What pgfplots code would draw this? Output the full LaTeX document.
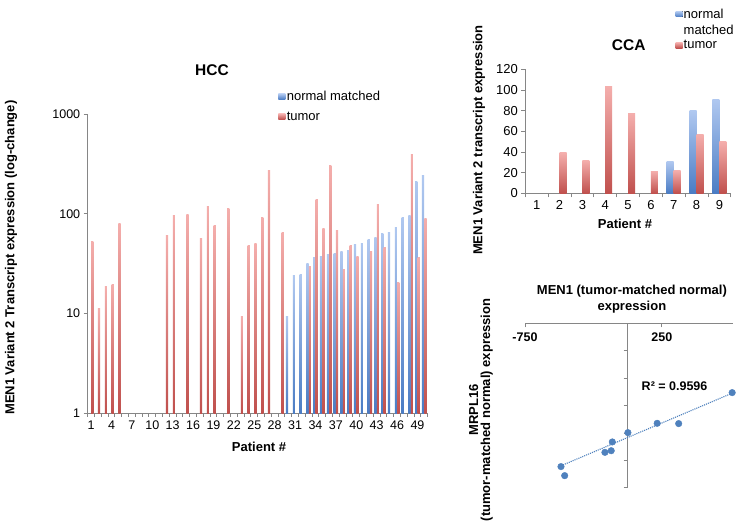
\documentclass[border=0pt]{standalone}
\usepackage{pgfplots}
\pgfplotsset{compat=1.18}
\usepackage{pgfplotstable}
\usepackage{fontspec}
\setmainfont{Liberation Sans}
\definecolor{redtop}{HTML}{F4AEAC}
\definecolor{redbot}{HTML}{C0504D}
\definecolor{bluetop}{HTML}{B0C8F0}
\definecolor{bluebot}{HTML}{4A7CC4}
\definecolor{axgray}{HTML}{868686}
\definecolor{ptblue}{HTML}{4F81BD}

\pgfplotstableread{
x y
764 -253
216 -365
373 -366
2 -399
-112 -433
-120 -465
-166 -471
-487 -523
-460 -556
}\scatterdata

% one \addplot per bar, so that every bar gets its own gradient
\newcommand{\bars}[2]{%
  \pgfplotsforeachungrouped \p/\v in {#2}{%
    \edef\tmp{\noexpand\addplot[#1, forget plot] coordinates {(\p,\v)};}\tmp}}

\pgfplotsset{
  common/.style={
    scale only axis,
    axis line style={axgray, line width=0.8pt},
    every tick/.style={axgray, line width=0.8pt},
    tick label style={font=\fontsize{12.5}{14}\selectfont, text=black},
    label style={font=\bfseries\fontsize{13}{15}\selectfont},
    /pgf/number format/assume math mode=true,
    legend cell align=left,
    legend image code/.code={\fill[##1, draw=none] (0pt,-2.5pt) rectangle (7pt,3pt);},
  },
  redbar/.style={ybar, draw=none, top color=redtop, bottom color=redbot},
  bluebar/.style={ybar, draw=none, top color=bluetop, bottom color=bluebot},
}

\begin{document}
\begin{tikzpicture}
\path[use as bounding box] (0pt,0pt) rectangle (740pt,525pt);

% ---------------- HCC ----------------
\begin{axis}[common,
  at={(87.7pt,111.7pt)}, anchor=south west,
  width=340pt, height=299.3pt,
  ymode=log, ymin=1, ymax=1000, log origin=0,
  ytick={1,10,100,1000}, yticklabels={1,10,100,1000},
  yminorticks=false,
  xmin=0.5, xmax=50.5,
  xtick={1,4,...,49},
  minor xtick={0.5,1.5,...,50.5},
  major x tick style={draw=none},
  tick align=outside, major tick length=4pt, minor tick length=3.5pt,
  axis x line*=bottom, axis y line*=left,
  title={HCC},
  title style={at={(axis description cs:0.3656,1.125)}, anchor=center, font=\bfseries\fontsize{15.5}{18}\selectfont},
  xlabel={Patient \#},
  xlabel style={at={(axis description cs:0.504,-0.1126)}, anchor=center},
  ylabel={MEN1 Variant 2 Transcript expression (log-change)},
  ylabel style={at={(axis description cs:-0.2255,0.52)}, anchor=center},
  legend style={at={(axis description cs:0.56,1.081)}, anchor=north west, draw=none, fill=none,
    font=\fontsize{13}{15}\selectfont, row sep=6.5pt, inner sep=0pt, nodes={inner sep=1.5pt}},
]
% normal matched
\bars{bluebar, bar width=2.2pt, bar shift=-1.2pt}{30/9.4, 31/23.8, 32/24.4, 33/31.6, 34/36.3, 35/37.4, 36/39.2, 37/39.8, 38/41.5, 39/42.5, 40/49, 41/50.9, 42/55.4, 43/58.4, 44/64, 45/65, 46/73.6, 47/92.6, 48/95.5, 49/212, 50/241.6}
% tumor
\bars{redbar, bar width=2.2pt, bar shift=1.2pt}{1/52.9, 2/11.2, 3/18.5, 4/19.6, 5/79.4, 12/60.7, 13/95.5, 15/98.5, 17/56.2, 18/118, 19/76.4, 21/113, 23/9.3, 24/48.2, 25/50, 26/92.6, 27/271, 29/64.6, 33/29.3, 34/138, 35/70.8, 36/304, 37/68, 38/27.5, 39/48.2, 40/36.9, 42/42, 43/123, 44/46.4, 46/20.3, 48/389, 49/36.3, 50/90.5}
\addlegendimage{bluebar}
\addlegendentry{normal matched}
\addlegendimage{redbar}
\addlegendentry{tumor}
\end{axis}

% ---------------- CCA ----------------
\begin{axis}[common,
  at={(525.3pt,331.7pt)}, anchor=south west,
  width=205.5pt, height=124pt,
  ymin=0, ymax=120, ytick={0,20,...,120},
  xmin=0.5, xmax=9.5, xtick={1,...,9},
  minor xtick={0.5,1.5,...,9.5},
  major x tick style={draw=none},
  tick align=outside, major tick length=4pt, minor tick length=4pt,
  tick label style={font=\fontsize{13}{15}\selectfont},
  axis x line*=bottom, axis y line*=left,
  title={CCA},
  title style={at={(axis description cs:0.503,1.148)}, anchor=center, font=\bfseries\fontsize{15.5}{18}\selectfont},
  xlabel={Patient \#},
  xlabel style={at={(axis description cs:0.485,-0.247)}, anchor=center},
  ylabel={MEN1 Variant 2 transcript expression},
  ylabel style={at={(axis description cs:-0.2255,0.43)}, anchor=center},
  legend style={at={(axis description cs:0.73,1.498)}, anchor=north west, draw=none, fill=none,
    font=\fontsize{13}{15}\selectfont, row sep=2.5pt, inner sep=0pt, nodes={inner sep=1.2pt}},
]
\bars{bluebar, bar width=7pt, bar shift=-3.5pt}{7/31, 8/80, 9/91}
\bars{redbar, bar width=7pt, bar shift=3.5pt}{2/39, 3/32, 4/103, 5/77, 6/21.5, 7/22, 8/57, 9/50}
\addlegendimage{bluebar}
\addlegendentry{normal}
\addlegendimage{empty legend}
\addlegendentry{matched}
\addlegendimage{redbar}
\addlegendentry{tumor}
\end{axis}

% ---------------- Scatter ----------------
\begin{axis}[common,
  at={(525pt,37.3pt)}, anchor=south west,
  width=208pt, height=164.4pt,
  xmin=-750, xmax=770, ymin=-600, ymax=0,
  axis lines=middle, axis line style={-},
  xtick={-750,250},
  ytick={-600,-500,...,-100}, yticklabels={},
  hide obscured x ticks=false,
  tick align=outside, major tick length=4pt,
  x tick label style={font=\bfseries\fontsize{12.5}{14}\selectfont, yshift=-2pt},
  title={MEN1 (tumor-matched normal)\\expression},
  title style={at={(axis description cs:0.514,1.111)}, anchor=center, align=center,
    font=\bfseries\fontsize{13}{16}\selectfont},
  ylabel={MRPL16\\(tumor-matched normal) expression},
  ylabel style={at={(axis description cs:-0.212,0.473)}, anchor=center, align=center, rotate=90,
    font=\bfseries\fontsize{13}{12}\selectfont},
]
\addplot[only marks, mark=*, mark size=3.3pt, mark options={draw=ptblue, fill=ptblue}] table[x=x, y=y] {\scatterdata};
\addplot[ptblue, densely dotted, line width=1.1pt] coordinates {(-487,-520) (764,-255)};
\node[font=\bfseries\fontsize{12.5}{14}\selectfont, anchor=center] at (axis cs:343,-229) {R² = 0.9596};
\end{axis}
\end{tikzpicture}
\end{document}
